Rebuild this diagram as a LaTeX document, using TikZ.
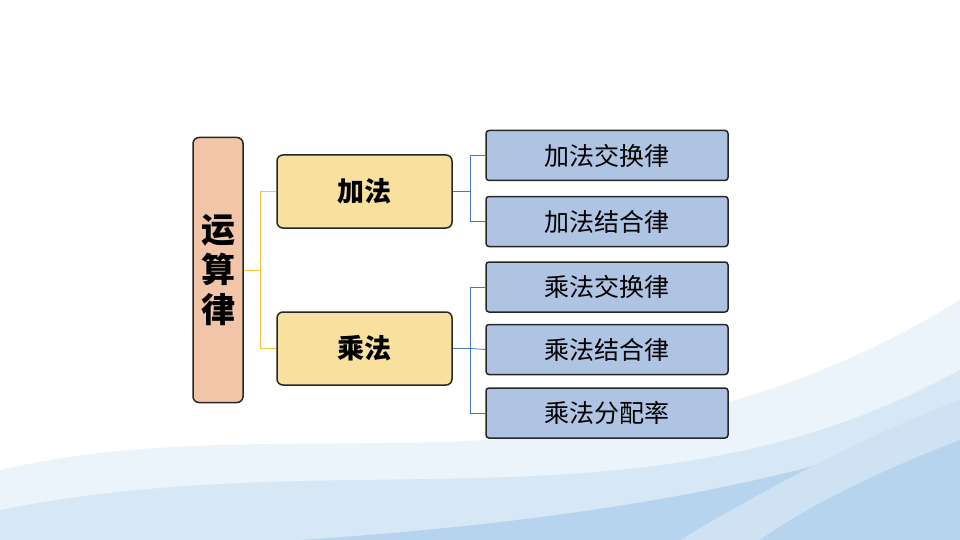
\documentclass[tikz,border=0pt]{standalone}
\usepackage{fontspec}
\newfontfamily\cjk{Noto Sans CJK SC}
\usetikzlibrary{positioning}
\definecolor{rootfill}{HTML}{F2C5A8}
\definecolor{midfill}{HTML}{F8E19E}
\definecolor{leaffill}{HTML}{AFC3E2}
\definecolor{rootline}{HTML}{F5C542}
\definecolor{leafline}{HTML}{4A78C0}
\definecolor{swoosh}{HTML}{5C9FD8}
\tikzset{
  box/.style={
      draw=black!85,
      line width=1.5pt,
      rounded corners=6pt,
      font=\cjk,
      inner sep=0pt,
  },
  rootbox/.style={box, fill=rootfill, minimum width=50pt, minimum height=265pt,
      font=\cjk\bfseries\fontsize{34}{40}\selectfont, align=center},
  midbox/.style={box, fill=midfill, minimum width=175pt, minimum height=73pt,
      font=\cjk\bfseries\fontsize{27}{30}\selectfont},
  leafbox/.style={box, fill=leaffill, rounded corners=3pt, minimum width=242pt,
      minimum height=50pt, font=\cjk\fontsize{25}{28}\selectfont},
  rootlink/.style={draw=rootline, line width=0.8pt},
  leaflink/.style={draw=leafline, line width=0.8pt},
}
\begin{document}
\begin{tikzpicture}[x=1pt,y=-1pt]
  \useasboundingbox (0,0) rectangle (960,540);
  % background swooshes
  \fill[swoosh!12] (0,470) .. controls (300,400) and (600,520) .. (960,300)
    -- (960,540) -- (0,540) -- cycle;
  \fill[swoosh!25] (0,510) .. controls (350,440) and (650,540) .. (960,370)
    -- (960,540) -- (0,540) -- cycle;
  \fill[swoosh!45] (300,540) .. controls (600,520) and (800,480) .. (960,420)
    -- (960,540) -- cycle;
  \fill[white!70!swoosh] (680,540) .. controls (780,480) and (880,430) .. (960,400)
    -- (960,440) .. controls (880,470) and (800,510) .. (760,540) -- cycle;
  % nodes
  \node[rootbox] (root) at (218,270) {运\\算\\律};
  \node[midbox] (add) at (364.5,191.5) {加法};
  \node[midbox] (mul) at (364.5,348.5) {乘法};
  \node[leafbox] (a1) at (607,155.5) {加法交换律};
  \node[leafbox] (a2) at (607,221.5) {加法结合律};
  \node[leafbox] (m1) at (607,287) {乘法交换律};
  \node[leafbox] (m2) at (607,349.5) {乘法结合律};
  \node[leafbox] (m3) at (607,413) {乘法分配率};
  % connectors
  \draw[rootlink] (root.east) -- ++(17,0) coordinate (rj);
  \draw[rootlink] (add.west) -| (rj) |- (mul.west);
  \draw[leaflink] (add.east) -- ++(18,0) coordinate (aj);
  \draw[leaflink] (a1.west) -| (aj) |- (a2.west);
  \draw[leaflink] (mul.east) -- ++(18,0) coordinate (mj);
  \draw[leaflink] (m1.west) -| (mj) |- (m3.west);
  \draw[leaflink] (mj) -- (m2.west);
\end{tikzpicture}
\end{document}
